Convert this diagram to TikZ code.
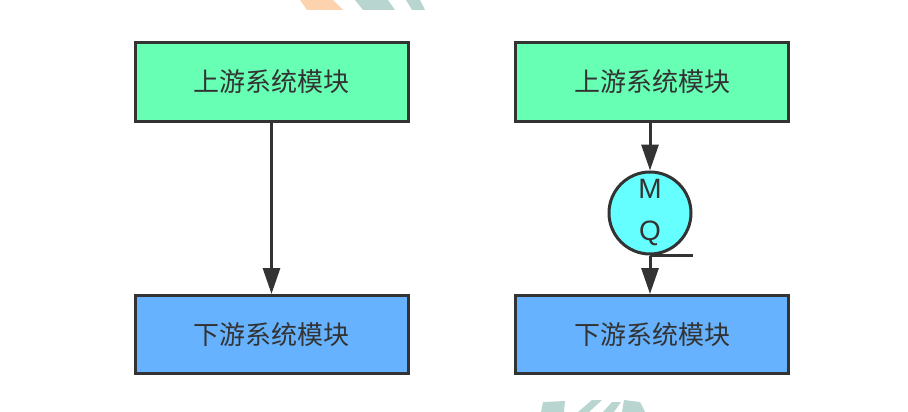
\documentclass[tikz,border=0pt]{standalone}
\usepackage{fontspec}
\newfontfamily\cjk{Noto Sans CJK SC}
\newfontfamily\mqfont{Liberation Sans}
\usetikzlibrary{arrows.meta}
\definecolor{upgreen}{HTML}{66FFB3}
\definecolor{downblue}{HTML}{66B2FF}
\definecolor{mqcyan}{HTML}{66FFFF}
\definecolor{edge}{HTML}{333333}
\definecolor{txt}{HTML}{333333}
\definecolor{wmorange}{HTML}{FDD3AE}
\definecolor{wmteal}{HTML}{B8D6CF}
\begin{document}
\begin{tikzpicture}[x=1pt,y=-1pt,
  box/.style={draw=edge,line width=3pt,minimum width=273pt,minimum height=78pt,inner sep=0pt,
    font=\cjk\fontsize{26}{30}\selectfont,text=txt},
  upbox/.style={box,fill=upgreen},
  downbox/.style={box,fill=downblue},
  mq/.style={draw=edge,line width=3pt,fill=mqcyan,circle,minimum size=82pt,inner sep=0pt,
    font=\mqfont\fontsize{28}{42}\selectfont,text=txt,align=center},
  conn/.style={draw=edge,line width=3pt,-{Triangle[length=26pt,width=17pt]}}]
\useasboundingbox (0,0) rectangle (908,412);
% watermark fragments
\fill[wmorange] (300,0) -- (333,0) -- (343,10) -- (307,10) -- cycle;
\fill[wmteal] (355,0) -- (388,0) -- (395,10) -- (363,10) -- cycle;
\fill[wmteal] (406,0) -- (420,0) -- (425,10) -- (412,10) -- cycle;
\fill[wmteal] (541,412) -- (543,402) -- (565,401) -- (564,412) -- cycle;
\fill[wmteal] (578,412) -- (592,400) -- (602,400) -- (589,412) -- cycle;
\fill[wmteal] (603,412) -- (612,402) -- (621,402) -- (614,412) -- cycle;
\fill[wmteal] (622,412) -- (624,400) -- (640,402) -- (645,412) -- cycle;
% left
\node[upbox] (lu) at (271.5,82) {上游系统模块};
\node[downbox] (ld) at (271.5,334.5) {下游系统模块};
\draw[conn] (lu.south) -- (ld.north);
% right
\node[upbox] (ru) at (652,82) {上游系统模块};
\node[downbox] (rd) at (652,334.5) {下游系统模块};
\node[mq] (q) at (650,213) {M\\Q};
\coordinate (qt) at ([xshift=43pt]q.south);
\draw[edge,line width=3pt] (q.south) -- (qt);
\draw[conn] (ru.south -| q.north) -- (q.north);
\draw[conn] (q.south) -- (rd.north -| q.south);
\end{tikzpicture}
\end{document}
